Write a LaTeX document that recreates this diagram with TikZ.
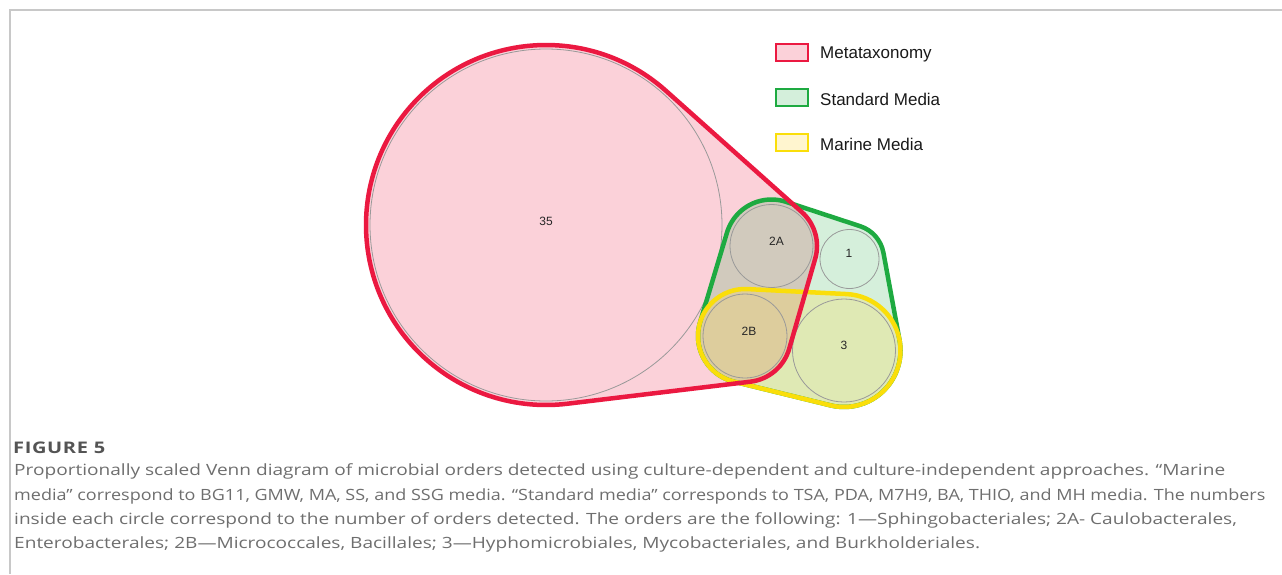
\documentclass[tikz,border=0pt]{standalone}
\usepackage{fontspec}
\setmainfont{Open Sans}[FakeStretch=1.23]
\newfontfamily\capnarrow{Open Sans}[FakeStretch=1.16]
\newfontfamily\figfont{Open Sans}[FakeStretch=1.25,LetterSpace=4]
\newfontfamily\legendfont{Liberation Sans}
\usetikzlibrary{calc}
\definecolor{metared}{RGB}{235,25,65}
\definecolor{stdgreen}{RGB}{30,170,65}
\definecolor{maryellow}{RGB}{255,215,65}
\definecolor{maredge}{RGB}{250,222,10}
\definecolor{framegray}{RGB}{200,200,200}
\definecolor{captiongray}{RGB}{110,110,110}
\newcommand{\metahull}{($(c35)+(48.25:180)$) arc[start angle=48.25,end angle=276.87,radius=180] -- ($(c2B)+(276.87:46)$) arc[start angle=276.87,end angle=343.90,radius=46] -- ($(c2A)+(-16.10:45.5)$) arc[start angle=-16.10,end angle=48.25,radius=45.5] -- cycle}
\newcommand{\stdhull}{($(c2A)+(71.81:46.5)$) arc[start angle=71.81,end angle=163.28,radius=46.5] -- ($(c2B)+(163.28:47)$) arc[start angle=163.28,end angle=256.22,radius=47] -- ($(c3)+(256.22:56.5)$) arc[start angle=256.22,end angle=370.45,radius=56.5] -- ($(c1)+(10.45:34.5)$) arc[start angle=10.45,end angle=71.81,radius=34.5] -- cycle}
\newcommand{\marhull}{($(c2B)+(87.12:47)$) arc[start angle=87.12,end angle=256.22,radius=47] -- ($(c3)+(256.22:56.5)$) arc[start angle=-103.78,end angle=87.12,radius=56.5] -- cycle}
\begin{document}
\begin{tikzpicture}[x=1pt,y=1pt,
  thincircle/.style={draw=black!40,line width=0.8pt},
  numlabel/.style={font=\legendfont\fontsize{12}{14}\selectfont,text=black!85},
  legendtext/.style={font=\legendfont\fontsize{17}{20}\selectfont,text=black!90,anchor=west,inner sep=0pt},
  captext/.style={font=\fontsize{15.5}{18}\selectfont,text=captiongray,anchor=base west,inner sep=0pt}]
\useasboundingbox (0,0) rectangle (1282,-574);
\draw [framegray,line width=1.2pt] (10,-574) -- (10,-10) -- (1282,-10);

\coordinate (c35) at (546,-225);
\coordinate (c2A) at (771.5,-246);
\coordinate (c1) at (849.5,-259);
\coordinate (c2B) at (745,-336);
\coordinate (c3) at (844,-350.5);

\fill [metared,fill opacity=0.2] \metahull;
\fill [stdgreen,fill opacity=0.19] \stdhull;
\fill [maryellow,fill opacity=0.25] \marhull;

\draw [thincircle] (c35) circle[radius=176];
\draw [thincircle] (c2A) circle[radius=41.5];
\draw [thincircle] (c1) circle[radius=29.5];
\draw [thincircle] (c2B) circle[radius=42];
\draw [thincircle] (c3) circle[radius=51.5];

\draw [stdgreen,line width=4.5pt] \stdhull;
\draw [maredge,line width=4.5pt] \marhull;
\draw [metared,line width=4.5pt] \metahull;

\node [numlabel] (n35) at (546,-221) {35};
\node [numlabel] (n2A) at (776.5,-241) {2A};
\node [numlabel] (n1) at (849,-253) {1};
\node [numlabel] (n2B) at (749,-331) {2B};
\node [numlabel] (n3) at (844,-345) {3};

\draw [metared,line width=1.5pt,fill=metared!20] (776,-44) rectangle (808,-61);
\node [legendtext] (lmeta) at (820,-54) {Metataxonomy};
\draw [stdgreen,line width=1.5pt,fill=stdgreen!19] (776,-89) rectangle (808,-106);
\node [legendtext] (lstd) at (820,-99) {Standard Media};
\draw [maredge,line width=1.5pt,fill=maryellow!25] (776,-134) rectangle (808,-151);
\node [legendtext] (lmar) at (820,-144) {Marine Media};

\node [captext,text=black!67,font=\figfont\bfseries\fontsize{16}{18}\selectfont] (figno) at (13,-453) {FIGURE 5};
\node [captext] (cap1) at (14,-475) {Proportionally scaled Venn diagram of microbial orders detected using culture-dependent and culture-independent approaches. “Marine};
\node [captext,font=\capnarrow\fontsize{15.5}{18}\selectfont] (cap2) at (14,-500) {media” correspond to BG11, GMW, MA, SS, and SSG media. “Standard media” corresponds to TSA, PDA, M7H9, BA, THIO, and MH media. The numbers};
\node [captext] (cap3) at (14,-524) {inside each circle correspond to the number of orders detected. The orders are the following: 1—Sphingobacteriales; 2A- Caulobacterales,};
\node [captext] (cap4) at (14,-548) {Enterobacterales; 2B—Micrococcales, Bacillales; 3—Hyphomicrobiales, Mycobacteriales, and Burkholderiales.};
\end{tikzpicture}
\end{document}
